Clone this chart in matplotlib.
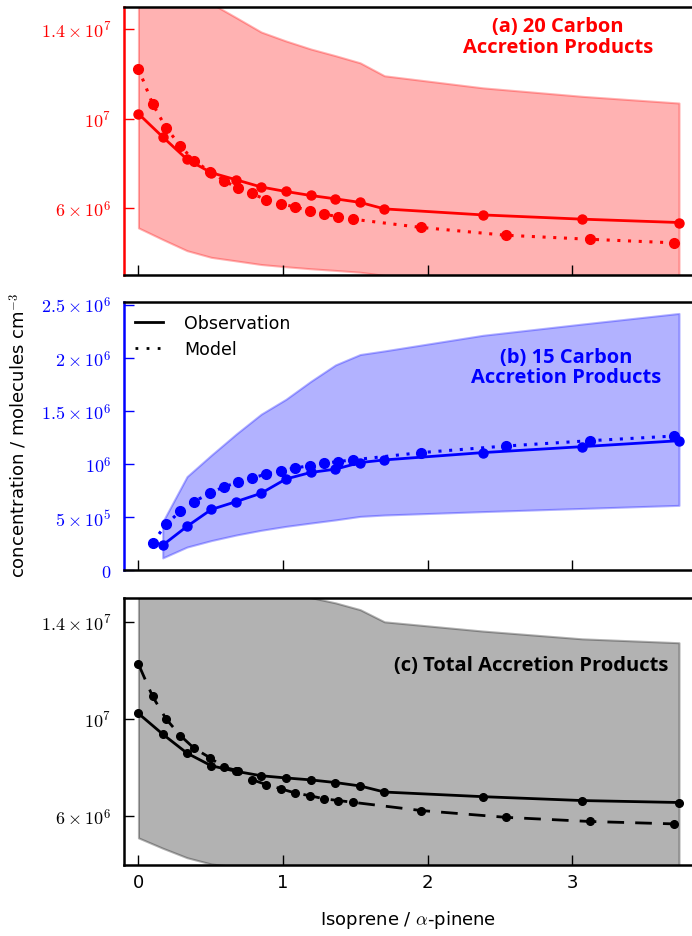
import matplotlib
matplotlib.use('Agg')
import matplotlib.pyplot as plt
from matplotlib.lines import Line2D
import numpy as np

plt.rcParams['mathtext.fontset'] = 'cm'
plt.rcParams['font.family'] = ['DejaVu Sans']

# ---------------- data ----------------
obs_x = [0, 0.168, 0.336, 0.504, 0.678, 0.849, 1.020, 1.192, 1.363, 1.534, 1.702, 2.383, 3.071, 3.740]
model_x = [0, 0.098, 0.192, 0.290, 0.385, 0.498, 0.590, 0.688, 0.785, 0.883, 0.987,
           1.085, 1.185, 1.286, 1.384, 1.482, 1.955, 2.542, 3.122, 3.706]

# (a) 20 carbon accretion products
c20_obs = [10.22e6, 9.18e6, 8.18e6, 7.58e6, 7.26e6, 6.94e6, 6.74e6, 6.56e6, 6.41e6, 6.25e6,
           5.96e6, 5.69e6, 5.50e6, 5.35e6]
c20_model = [12.24e6, 10.66e6, 9.58e6, 8.79e6, 8.10e6, 7.63e6, 7.23e6, 6.89e6, 6.65e6, 6.37e6,
             6.19e6, 6.04e6, 5.88e6, 5.72e6, 5.61e6, 5.50e6, 5.13e6, 4.78e6, 4.60e6, 4.44e6]

# (b) 15 carbon accretion products (no value at isoprene/alpha-pinene = 0)
c15_obs = [0.234e6, 0.411e6, 0.570e6, 0.645e6, 0.723e6, 0.857e6, 0.919e6, 0.950e6, 1.012e6,
           1.037e6, 1.106e6, 1.162e6, 1.218e6]
c15_model = [0.259e6, 0.430e6, 0.555e6, 0.645e6, 0.726e6, 0.782e6, 0.826e6, 0.866e6, 0.903e6,
             0.935e6, 0.960e6, 0.984e6, 1.006e6, 1.022e6, 1.037e6, 1.106e6, 1.168e6, 1.218e6, 1.262e6]
# shaded uncertainty band of panel (b), read at the observation x positions
c15_band_low = [0.114e6, 0.216e6, 0.277e6, 0.330e6, 0.374e6, 0.411e6, 0.442e6, 0.472e6, 0.505e6,
                0.518e6, 0.550e6, 0.580e6, 0.609e6]
c15_band_high = [0.454e6, 0.880e6, 1.082e6, 1.283e6, 1.468e6, 1.608e6, 1.777e6, 1.932e6, 2.030e6,
                 2.064e6, 2.211e6, 2.317e6, 2.417e6]

# (c) total accretion products
tot_obs = [10.23e6, 9.38e6, 8.60e6, 8.08e6, 7.85e6, 7.67e6, 7.58e6, 7.50e6, 7.39e6, 7.25e6,
           7.00e6, 6.81e6, 6.65e6, 6.57e6]
tot_model = [12.26e6, 10.93e6, 10.00e6, 9.32e6, 8.80e6, 8.40e6, 8.02e6, 7.88e6, 7.51e6, 7.31e6,
             7.13e6, 6.96e6, 6.85e6, 6.72e6, 6.65e6, 6.58e6, 6.24e6, 5.96e6, 5.79e6, 5.69e6]

# factor-of-two uncertainty on the observations (shaded band, panels a and c)
uncertainty_factor = 2.0

xticks = [0, 1, 2, 3]
xticklabels = ['0', '1', '2', '3']
yticks_a = [6e6, 1e7, 1.4e7]
yticklabels_a = [r'$6\times10^{6}$', r'$10^{7}$', r'$1.4\times10^{7}$']
yticks_b = [0, 5e5, 1e6, 1.5e6, 2e6, 2.5e6]
yticklabels_b = [r'$0$', r'$5\times10^{5}$', r'$10^{6}$', r'$1.5\times10^{6}$',
                 r'$2\times10^{6}$', r'$2.5\times10^{6}$']
yticks_c = [6e6, 1e7, 1.4e7]
yticklabels_c = [r'$6\times10^{6}$', r'$10^{7}$', r'$1.4\times10^{7}$']

titles = ['(a) 20 Carbon\nAccretion Products', '(b) 15 Carbon\nAccretion Products',
          '(c) Total Accretion Products']

# ---------------- figure ----------------
W, H = 692, 937
fig = plt.figure(figsize=(W / 100, H / 100), dpi=100)


def rect(top, bottom, left=124, right=692):
    return [left / W, (H - bottom) / H, (right - left) / W, (bottom - top) / H]


ax_a = fig.add_axes(rect(8, 276))
ax_b = fig.add_axes(rect(303.5, 571))
ax_c = fig.add_axes(rect(598.5, 866))

a_lo = np.asarray(c20_obs) / uncertainty_factor
a_hi = np.asarray(c20_obs) * uncertainty_factor
c_lo = np.asarray(tot_obs) / uncertainty_factor
c_hi = np.asarray(tot_obs) * uncertainty_factor

panels = [
    (ax_a, 'red', obs_x, c20_obs, a_lo, a_hi, model_x, c20_model, ':', (3e6, 1.5e7),
     yticks_a, yticklabels_a, 6.5),
    (ax_b, 'blue', obs_x[1:], c15_obs, c15_band_low, c15_band_high, model_x[1:], c15_model, ':',
     (0, 2.52e6), yticks_b, yticklabels_b, 6.5),
    (ax_c, 'black', obs_x, tot_obs, c_lo, c_hi, model_x, tot_model, '--', (4e6, 1.5e7),
     yticks_c, yticklabels_c, 5.5),
]

for ax, col, ox, oy, blo, bhi, mx, my, mls, ylim, yt, ytl, ms in panels:
    ax.fill_between(ox, blo, bhi, facecolor=col, alpha=0.3, edgecolor=col,
                    linewidth=1.5, zorder=1)
    ax.plot(ox, oy, '-', color=col, lw=2, marker='o', ms=ms, zorder=3)
    if mls == ':':
        ax.plot(mx, my, linestyle=(0, (1, 2.5)), color=col, lw=2.2, marker='o', ms=ms + 0.5,
                zorder=3)
    else:
        ax.plot(mx, my, linestyle=(0, (6, 4)), color=col, lw=2, marker='o', ms=ms, zorder=3)
    ax.set_xlim(-0.1, 3.83)
    ax.set_ylim(*ylim)
    ax.set_yticks(yt)
    ax.set_yticklabels(ytl, fontsize=13)
    ax.set_xticks(xticks)
    ax.tick_params(axis='both', direction='in', length=7, width=1)
    ax.tick_params(axis='y', colors=col, labelcolor=col, pad=9)
    ax.tick_params(axis='x', colors='black', labelsize=13, pad=6)
    ax.tick_params(top=False, right=False)
    for s in ['top', 'bottom', 'left']:
        ax.spines[s].set_linewidth(1.8)
    ax.spines['right'].set_visible(False)
    ax.spines['left'].set_color(col)

ax_a.set_xticklabels([])
ax_b.set_xticklabels([])
ax_c.set_xticklabels(xticklabels)

title_font = dict(family=['Open Sans', 'DejaVu Sans'], fontweight='bold', fontsize=14.5)
ax_a.text(0.764, 0.89, titles[0], transform=ax_a.transAxes, ha='center', va='center',
          multialignment='center', color='red', linespacing=1.05, **title_font)
ax_b.text(0.778, 0.759, titles[1], transform=ax_b.transAxes, ha='center', va='center',
          multialignment='center', color='blue', linespacing=1.05, **title_font)
ax_c.text(0.958, 0.748, titles[2], transform=ax_c.transAxes, ha='right', va='center',
          color='black', **title_font)

handles = [Line2D([], [], color='black', lw=2, ls='-'),
           Line2D([], [], color='black', lw=2, ls=(0, (1, 3)))]
ax_b.legend(handles, ['Observation', 'Model'], loc='upper left', frameon=False,
            fontsize=12.5, handlelength=1.6, handletextpad=1.2, borderaxespad=0.25,
            labelspacing=0.5)

ax_c.set_xlabel(r'Isoprene / $\alpha$-pinene', fontsize=13, labelpad=12)
fig.text(18 / W, 1 - 435 / H, r'concentration / molecules cm$^{-3}$', rotation=90,
         ha='center', va='center', fontsize=13)

fig.savefig('out.png', dpi=100)
